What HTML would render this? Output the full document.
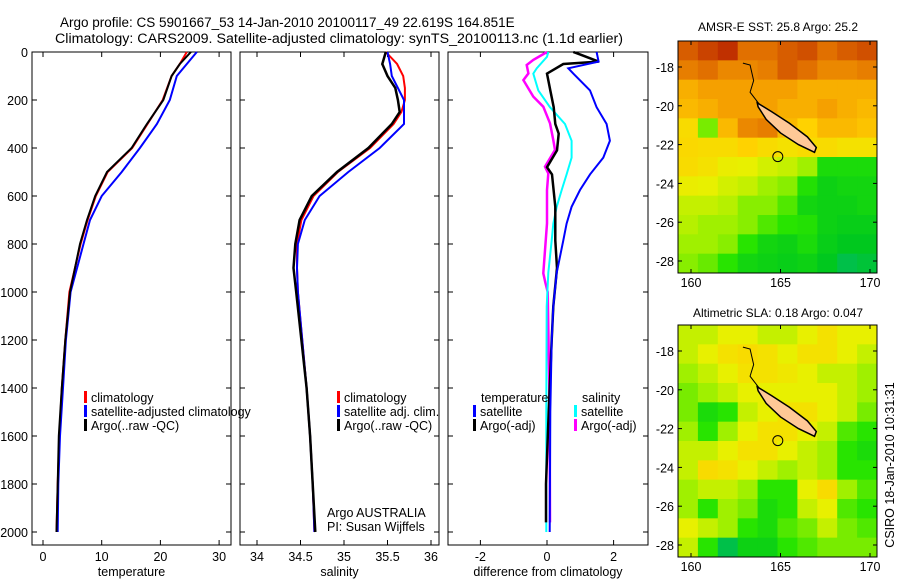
<!DOCTYPE html>
<html><head><meta charset="utf-8"><style>
body{margin:0;background:#fff;}
svg{display:block;font-family:"Liberation Sans",Arial,sans-serif;}
</style></head><body>
<svg id="fig" width="900" height="580" xmlns="http://www.w3.org/2000/svg">
<text x="60" y="27" font-size="13.5">Argo profile: CS 5901667_53 14-Jan-2010 20100117_49 22.619S 164.851E</text>
<text x="55" y="43" font-size="13.5" textLength="568" lengthAdjust="spacingAndGlyphs">Climatology: CARS2009. Satellite-adjusted climatology: synTS_20100113.nc (1.1d earlier)</text>
<text x="778" y="31" font-size="12" text-anchor="middle">AMSR-E SST: 25.8 Argo: 25.2</text>
<text x="778" y="317" font-size="12" text-anchor="middle">Altimetric SLA: 0.18 Argo: 0.047</text>
<text transform="translate(894,465) rotate(-90)" font-size="12.5" text-anchor="middle">CSIRO 18-Jan-2010 10:31:31</text>
<g id="g"></g>
</svg>
<script>
// ---- profile data ----
const depthT = [0,50,100,200,300,400,500,600,700,800,1000,1200,1400,1600,1800,2000];
const tArgo  = [25.2,23.3,21.9,20.5,17.7,15.1,10.9,8.9,7.5,6.3,4.6,3.8,3.2,2.7,2.5,2.3];
const tClim  = [24.5,23.3,21.9,20.4,17.8,15.2,11.0,9.0,7.6,6.4,4.5,3.8,3.2,2.8,2.5,2.3];
const tSat   = [26.2,24.5,22.8,21.6,19.4,16.5,13.4,10.0,8.0,6.9,4.7,3.9,3.4,2.9,2.6,2.5];
const depthS = [0,50,100,150,200,250,300,400,500,600,700,800,900,1000,1400,1600,1800,2000];
const sArgo  = [35.48,35.44,35.50,35.59,35.62,35.64,35.55,35.28,34.92,34.63,34.49,34.44,34.42,34.45,34.57,34.61,34.64,34.67];
const sClim  = [35.48,35.61,35.68,35.70,35.70,35.66,35.57,35.30,34.93,34.65,34.51,34.46,34.46,34.47,34.57,34.61,34.64,34.66];
const sSat   = [35.50,35.53,35.55,35.62,35.69,35.69,35.69,35.41,35.05,34.72,34.55,34.47,34.46,34.47,34.57,34.61,34.64,34.66];
const dTSatDepth = [0,40,68,90,160,230,300,370,440,510,575,645,715,785,920,1060,1200,1500,2000];
const dTSat      = [1.49,1.55,0.64,0.79,1.29,1.49,1.79,1.89,1.69,1.29,0.99,0.74,0.59,0.49,0.29,0.19,0.14,0.10,0.08];
const dTArgoDepth= [0,10,40,50,90,160,230,300,340,410,480,510,645,785,900,1060,1200,1500,1800,1960];
const dTArgo     = [0.79,0.99,1.55,0.49,0.0,0.1,0.2,0.25,0.35,0.3,0.0,0.15,0.25,0.25,0.3,0.19,0.14,0.05,-0.03,-0.03];
const dSSatDepth = [0,20,68,90,160,230,300,370,440,510,575,645,715,785,920,1060,1500,2000];
const dSSat      = [0.04,0.0,-0.31,-0.41,-0.26,0.09,0.54,0.74,0.74,0.59,0.44,0.29,0.19,0.14,0.04,-0.01,-0.02,-0.02];
const dSArgoDepth= [0,33,54,89,117,186,228,297,367,408,478,506,575,714,922,960,1000,1500,1960];
const dSArgo     = [0,-0.41,-0.61,-0.56,-0.71,-0.41,-0.11,0.09,0.19,0.24,-0.06,0.04,0,0,-0.11,-0.05,0.02,0.08,0.09];
const depthTicks = [0,200,400,600,800,1000,1200,1400,1600,1800,2000];
const tTicks = [0,10,20,30];
const sTicks = [34,34.5,35,35.5,36];
const dTicks = [-2,0,2];
// ---- map data (rows top->bottom, lat -17..-28; cols lon west->east) ----
const sstGrid = [
[0.88,0.92,0.95,0.85,0.85,0.88,0.9,0.85,0.88,0.9],
[0.82,0.85,0.8,0.8,0.82,0.88,0.85,0.8,0.8,0.82],
[0.72,0.75,0.75,0.75,0.75,0.75,0.72,0.72,0.72,0.72],
[0.7,0.72,0.75,0.75,0.75,0.72,0.72,0.75,0.72,0.7],
[0.62,0.4,0.7,0.8,0.82,0.7,0.65,0.7,0.7,0.68],
[0.63,0.62,0.62,0.65,0.62,0.6,0.62,0.62,0.6,0.6],
[0.62,0.6,0.56,0.55,0.52,0.5,0.45,0.25,0.25,0.25],
[0.56,0.55,0.52,0.5,0.45,0.42,0.28,0.2,0.22,0.22],
[0.5,0.5,0.48,0.42,0.42,0.35,0.22,0.2,0.2,0.22],
[0.48,0.45,0.45,0.42,0.35,0.3,0.28,0.2,0.18,0.18],
[0.45,0.45,0.42,0.3,0.22,0.2,0.25,0.18,0.15,0.15],
[0.42,0.38,0.3,0.22,0.2,0.18,0.2,0.15,0.1,0.12]];
const slaGrid = [
[0.5,0.5,0.55,0.55,0.5,0.5,0.55,0.6,0.55,0.55],
[0.5,0.55,0.6,0.62,0.6,0.55,0.6,0.6,0.55,0.5],
[0.45,0.5,0.55,0.6,0.6,0.58,0.55,0.5,0.5,0.45],
[0.4,0.45,0.5,0.55,0.55,0.55,0.55,0.55,0.5,0.45],
[0.4,0.25,0.3,0.5,0.55,0.6,0.6,0.55,0.5,0.4],
[0.45,0.3,0.45,0.55,0.6,0.6,0.55,0.5,0.35,0.3],
[0.5,0.5,0.55,0.6,0.6,0.55,0.5,0.45,0.3,0.25],
[0.5,0.62,0.6,0.55,0.5,0.45,0.5,0.45,0.3,0.3],
[0.45,0.5,0.5,0.45,0.3,0.3,0.55,0.62,0.45,0.35],
[0.45,0.3,0.45,0.4,0.25,0.3,0.5,0.55,0.35,0.3],
[0.55,0.5,0.45,0.3,0.25,0.35,0.4,0.5,0.4,0.35],
[0.5,0.3,0.1,0.2,0.2,0.3,0.35,0.4,0.4,0.4]];
const lonTicks = [160,165,170];
const latTicks = [-18,-20,-22,-24,-26,-28];
const islandLon = [163.7,164.5,165.5,166.5,167.0,166.9,166.0,165.0,164.2,163.75];
const islandLat = [-19.85,-20.3,-20.9,-21.6,-22.15,-22.4,-22.0,-21.4,-20.7,-20.05];
const reefLon = [162.9,163.3,163.5,163.3,163.8];
const reefLat = [-17.8,-17.9,-18.7,-19.3,-19.9];
const argoLon = 164.85, argoLat = -22.62;

const NS="http://www.w3.org/2000/svg";
const G=document.getElementById('g');
function el(t,a,p){const e=document.createElementNS(NS,t);for(const k in a)e.setAttribute(k,a[k]);(p||G).appendChild(e);return e;}
const yD=d=>52+d*0.24;

function panel(name,x0,x1,xs,ticks,label,showY){
  const f=el('rect',{x:x0,y:52,width:x1-x0,height:493,fill:'none',stroke:'#000','stroke-width':1});
  
  
  depthTicks.forEach(d=>{
    const y=yD(d);
    el('line',{x1:x0,x2:x0+5,y1:y,y2:y,stroke:'#000'});
    el('line',{x1:x1-5,x2:x1,y1:y,y2:y,stroke:'#000'});
    if(showY){const t=el('text',{x:x0-4,y:y+5,'font-size':12.5,'text-anchor':'end'});t.textContent=d;
      
      }
  });
  ticks.forEach(v=>{
    const x=xs(v);
    el('line',{x1:x,x2:x,y1:52,y2:57,stroke:'#000'});
    el('line',{x1:x,x2:x,y1:540,y2:545,stroke:'#000'});
    const t=el('text',{x:x,y:561,'font-size':12.5,'text-anchor':'middle'});t.textContent=v;
    
    
  });
  const t=el('text',{x:(x0+x1)/2,y:576,'font-size':12.5,'text-anchor':'middle'});t.textContent=label;
  
  
}
function line(name,xs,vals,deps,color,w){
  const p=el('polyline',{points:vals.map((v,i)=>xs(v).toFixed(1)+','+yD(deps[i]).toFixed(1)).join(' '),fill:'none',stroke:color,'stroke-width':w||2});
  
  
}
function legend(x,y,color,txt){
  if(color)el('rect',{x:x,y:y-11,width:3,height:12,fill:color});
  const t=el('text',{x:x+(color?7:0),y:y,'font-size':12.5});t.textContent=txt;
  
  
}
const xT=v=>43+v*5.87, xS=v=>257+(v-34)*87, xDf=v=>547+v*33.3;
panel('temperature-panel',32,231,xT,tTicks,'temperature',true);
panel('salinity-panel',240,439,xS,sTicks,'salinity',false);
panel('difference-panel',448,648,xDf,dTicks,'difference from climatology',false);
line('temp-climatology',xT,tClim,depthT,'#f00');
line('temp-satellite',xT,tSat,depthT,'#00f');
line('temp-argo',xT,tArgo,depthT,'#000');
line('sal-climatology',xS,sClim,depthS,'#f00');
line('sal-satellite',xS,sSat,depthS,'#00f');
line('sal-argo',xS,sArgo,depthS,'#000',2.5);
line('diff-sal-argo',xDf,dSArgo,dSArgoDepth,'#f0f',2.5);
line('diff-sal-satellite',xDf,dSSat,dSSatDepth,'#0ff',2);
line('diff-temp-argo',xDf,dTArgo,dTArgoDepth,'#000',2.5);
line('diff-temp-satellite',xDf,dTSat,dTSatDepth,'#00f',2);
legend(84,402,'#f00','climatology');legend(84,416,'#00f','satellite-adjusted climatology');legend(84,430,'#000','Argo(..raw -QC)');
legend(337,402,'#f00','climatology');legend(337,416,'#00f','satellite adj. clim.');legend(337,430,'#000','Argo(..raw -QC)');
legend(481,402,null,'temperature');legend(473,416,'#00f','satellite');legend(473,430,'#000','Argo(-adj)');
legend(582,402,null,'salinity');legend(574,416,'#0ff','satellite');legend(574,430,'#f0f','Argo(-adj)');
legend(327,517,null,'Argo AUSTRALIA');legend(327,531,null,'PI: Susan Wijffels');

// ---- maps ----
const stops=[[0,[0,176,160]],[0.15,[0,200,30]],[0.3,[40,228,0]],[0.45,[160,240,0]],[0.55,[232,240,0]],[0.65,[255,210,0]],[0.75,[245,160,0]],[0.85,[225,112,0]],[0.95,[192,48,0]],[1,[160,0,0]]];
function cmap(v){for(let i=1;i<stops.length;i++){if(v<=stops[i][0]){const a=stops[i-1],b=stops[i],f=(v-a[0])/(b[0]-a[0]);return 'rgb('+a[1].map((c,k)=>Math.round(c+(b[1][k]-c)*f)).join(',')+')';}}return 'rgb(160,0,0)';}
function map(name,y0,grid){
  const x0=678,x1=877,y1=y0+232;
  const xL=lon=>691+(lon-160)*17.9, yL=lat=>y0+26+(-18-lat)*19.4;
  const rows=grid.length,cols=grid[0].length,cw=(x1-x0)/cols,ch=(y1-y0)/rows;
  grid.forEach((r,i)=>r.forEach((v,j)=>{
    const c=el('rect',{x:x0+j*cw,y:y0+i*ch,width:cw+0.5,height:ch+0.5,fill:cmap(v)});
    
    
  }));
  const isl=el('polygon',{points:islandLon.map((l,i)=>xL(l)+','+yL(islandLat[i])).join(' '),fill:'#ffc896',stroke:'#000','stroke-width':1.5});
  
  
  const rf=el('polyline',{points:reefLon.map((l,i)=>xL(l)+','+yL(reefLat[i])).join(' '),fill:'none',stroke:'#000','stroke-width':1});
  
  
  const ac=el('circle',{cx:xL(argoLon),cy:yL(argoLat),r:5,fill:'none',stroke:'#000','stroke-width':1});
  
  
  const fr=el('rect',{x:x0,y:y0,width:x1-x0,height:y1-y0,fill:'none',stroke:'#000'});
  
  
  lonTicks.forEach(l=>{const x=xL(l);el('line',{x1:x,x2:x,y1:y0,y2:y0+4,stroke:'#000'});el('line',{x1:x,x2:x,y1:y1-4,y2:y1,stroke:'#000'});
    const t=el('text',{x:x,y:y1+14,'font-size':12.5,'text-anchor':'middle'});t.textContent=l;
    
    });
  latTicks.forEach(l=>{const y=yL(l);el('line',{x1:x0,x2:x0+4,y1:y,y2:y,stroke:'#000'});el('line',{x1:x1-4,x2:x1,y1:y,y2:y,stroke:'#000'});
    const t=el('text',{x:x0-4,y:y+5,'font-size':12.5,'text-anchor':'end'});t.textContent=l;
    
    });
}
map('sst-map',41,sstGrid);
map('sla-map',325,slaGrid);
</script>
</body></html>
